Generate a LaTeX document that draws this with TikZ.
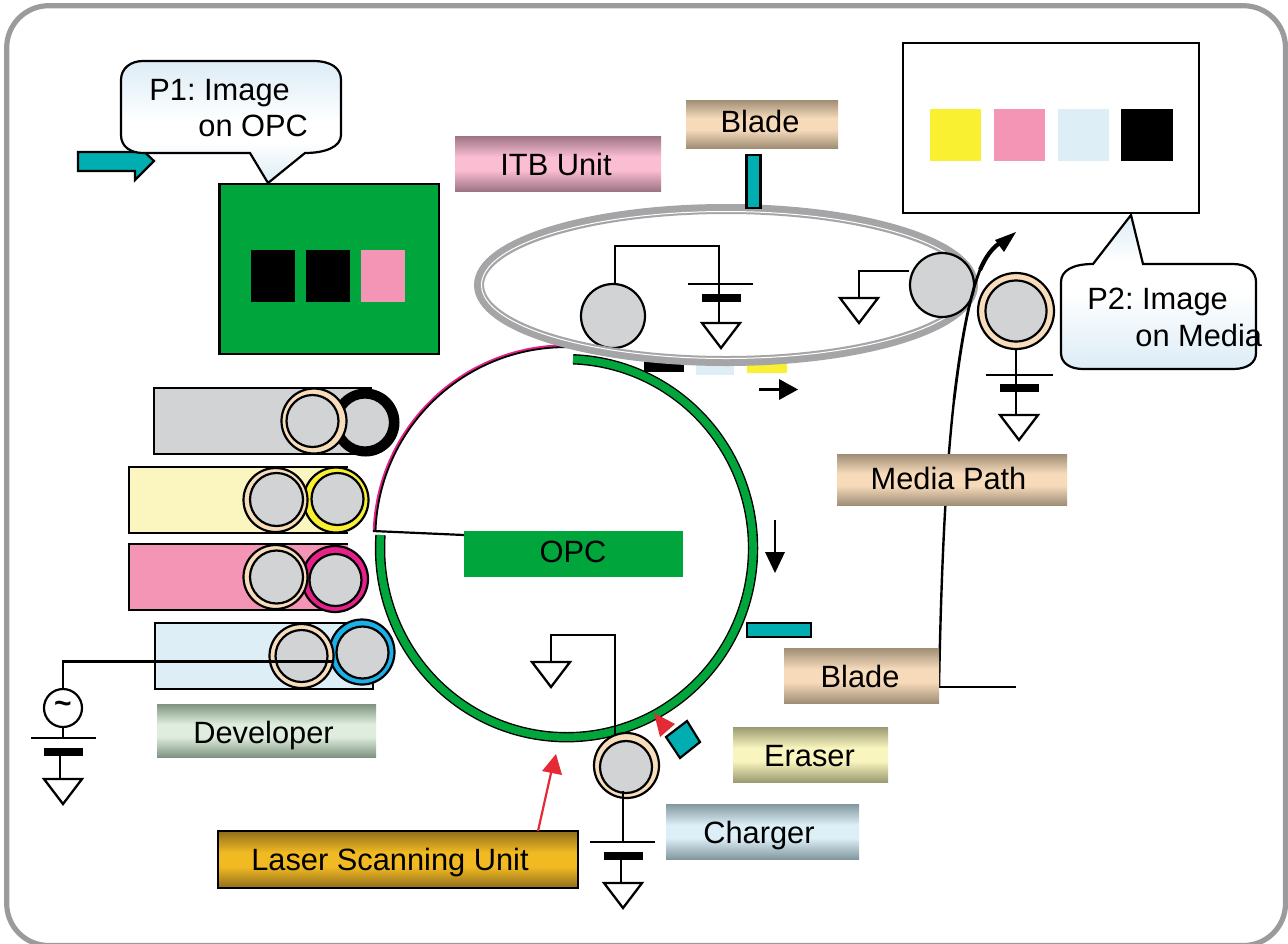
\documentclass[tikz,border=0pt]{standalone}
\usepackage{fontspec}
\setmainfont{Liberation Sans}
\usetikzlibrary{arrows.meta,calc}
\definecolor{framegray}{HTML}{9B9B9D}
\definecolor{rollgray}{HTML}{D1D3D4}
\definecolor{tanring}{HTML}{F7DDBB}
\definecolor{opcgreen}{HTML}{00A63C}
\definecolor{tealc}{HTML}{00ADB0}
\definecolor{pinkc}{HTML}{F495B5}
\definecolor{magc}{HTML}{E5218A}
\definecolor{yelc}{HTML}{F8F031}
\definecolor{cream}{HTML}{FBF5BF}
\definecolor{pale}{HTML}{DDEEF6}
\definecolor{cyanc}{HTML}{1CB0E8}
\definecolor{beltgray}{HTML}{A5A5A7}
\definecolor{redc}{HTML}{E32A36}
\definecolor{calloutblue}{HTML}{DCECF6}
% banded label shadings: dark edge, light middle
\newcommand{\mkband}[3]{\pgfdeclareverticalshading{#1}{100bp}{%
 color(0bp)=(#2!100); color(25bp)=(#2!100); color(44bp)=(#3!100); color(56bp)=(#3!100); color(75bp)=(#2!100); color(100bp)=(#2!100)}}
\definecolor{tanE}{HTML}{9F8E75}\definecolor{tanM}{HTML}{F6DABA}
\definecolor{itbE}{HTML}{9D7485}\definecolor{itbM}{HTML}{FBBDD2}
\definecolor{erE}{HTML}{9B9B72}\definecolor{erM}{HTML}{F9F5BE}
\definecolor{chE}{HTML}{82989F}\definecolor{chM}{HTML}{DCEEF6}
\definecolor{deE}{HTML}{7F9480}\definecolor{deM}{HTML}{DEEDDE}
\definecolor{laE}{HTML}{8F6E1C}\definecolor{laM}{HTML}{F2BA22}
\mkband{bandtan}{tanE}{tanM}
\mkband{banditb}{itbE}{itbM}
\mkband{bander}{erE}{erM}
\mkband{bandch}{chE}{chM}
\mkband{bandde}{deE}{deM}
\mkband{bandla}{laE}{laM}
\pgfdeclareverticalshading{callonep}{100bp}{color(0bp)=(calloutblue!100); color(25bp)=(calloutblue!100); color(42bp)=(white!100); color(50bp)=(white!100); color(75bp)=(calloutblue!100); color(100bp)=(calloutblue!100)}
\pgfdeclareverticalshading{calltwop}{100bp}{color(0bp)=(calloutblue!100); color(25bp)=(calloutblue!100); color(50bp)=(white!100); color(60bp)=(white!100); color(75bp)=(calloutblue!100); color(100bp)=(calloutblue!100)}
\tikzset{
 lab/.style={font=\fontsize{15.4}{18}\selectfont\frenchspacing,anchor=base,inner sep=0pt},
 calltext/.style={font=\fontsize{15.4}{18}\selectfont\frenchspacing,anchor=base west,inner sep=0pt},
 wire/.style={draw=black,line width=1.15pt},
 gnd/.style={draw=black,fill=white,line width=1.15pt,line join=miter},
 tealbox/.style={fill=tealc,draw=black,line width=1.1pt},
 roll/.style={fill=rollgray,draw=black,line width=1.1pt},
 devbox/.style={draw=black,line width=1.2pt},
}
\newcommand{\mygnd}[2]{\draw[gnd] (#1-19,#2) -- (#1+19,#2) -- (#1,#2+25) -- cycle;}
\newcommand{\mybar}[2]{\fill[black] (#1-19.5,#2) rectangle (#1+19.5,#2+7.5);}
% x1 y1 x2 y2 shading textcentre baseline name text
\newcommand{\mylabel}[9]{%
 \shade[shading=#5] (#1,#2) rectangle (#3,#4);
 \node[lab] (#8) at (#6,#7) {#9};}
\begin{document}
\begin{tikzpicture}[x=0.5pt,y=-0.5pt]
\useasboundingbox (0,0) rectangle (1288,943);
\fill[white] (0,0) rectangle (1288,943);
\draw[framegray,line width=2.6pt,rounded corners=21pt] (6.7,5.7) rectangle (1285.5,945.5);

% OPC drum
\draw[magc,line width=1.3pt] (374,531) arc[start angle=182,end angle=272,x radius=192,y radius=192];
\draw[black,line width=0.9pt] (375.5,531) arc[start angle=182,end angle=272,x radius=190.5,y radius=190.5];
\draw[black,line width=5.2pt] (380.5,535) arc[start angle=184,end angle=-88,x radius=186.5,y radius=189];
\draw[opcgreen,line width=3.8pt] (380.5,535) arc[start angle=184,end angle=-88,x radius=186.5,y radius=189];
\coordinate (opcedge) at (373,531);
\node[fill=opcgreen,minimum width=109.5pt,minimum height=23pt,inner sep=0pt,anchor=north west] (opcbox) at (464,531) {};
\node[lab] (opctext) at (573,562) {OPC};
\draw[black,line width=1.1pt] (opcedge) -- (opcbox.west |- 0,535);

% toner squares on the drum
\fill[black] (644,358) rectangle (684,372);
\fill[pale] (696,358) rectangle (734,375);
\fill[yelc] (747,358) rectangle (787,373);

% ITB rollers and belt
\node[circle,roll,minimum size=32pt,inner sep=0pt] (itbroll) at (613,316) {};
\draw[beltgray,line width=5pt] (726,285) ellipse[x radius=247,y radius=76];
\draw[white,line width=0.5pt] (726,285) ellipse[x radius=244.5,y radius=73.5];
\draw[wire] (615,284) |- (719,246) -- (719,323);
\draw[wire] (688,284) -- (753,284);
\mybar{721}{294}
\mygnd{721}{323}
\node[circle,roll,minimum size=32pt,inner sep=0pt] (itbroll2) at (942,285) {};
\draw[wire] (itbroll2.west |- 0,271) -- (859,271) -- (859,298);
\mygnd{859}{298}
\draw[tealbox] (746.5,155) rectangle (760.5,208);

% transfer roller
\fill[tanring,draw=black,line width=1.1pt] (1016,311) circle[radius=38];
\node[circle,roll,minimum size=30.5pt,inner sep=0pt] (xfer) at (1016,311) {};
\draw[wire] (1016,349) -- (1016,415);
\draw[wire] (986,375) -- (1053,375);
\mybar{1019}{384}
\mygnd{1019}{415}

% developers
\draw[devbox,fill=rollgray] (372,388) -- (154,388) -- (154,454) -- (372,454);
\fill[black] (365.5,422.5) circle[radius=34];
\node[circle,roll,minimum size=25pt,inner sep=0pt] (dk) at (365,422.5) {};
\fill[tanring,draw=black,line width=1.1pt] (314,421) circle[radius=32.5];
\node[circle,roll,minimum size=26pt,inner sep=0pt] (dkt) at (312.5,421) {};

\draw[devbox,fill=cream] (348,467) -- (129,467) -- (129,533) -- (348,533);
\fill[yelc,draw=black,line width=1.1pt] (336,500) circle[radius=32.5];
\node[circle,roll,minimum size=26pt,inner sep=0pt] (dy) at (337.5,499) {};
\fill[tanring,draw=black,line width=1.1pt] (275.5,500) circle[radius=32];
\node[circle,roll,minimum size=26.5pt,inner sep=0pt] (dyt) at (276.5,499.5) {};

\draw[devbox,fill=pinkc] (348,544) -- (129,544) -- (129,610) -- (348,610);
\fill[magc,draw=black,line width=1.1pt] (335,579) circle[radius=33];
\node[circle,roll,minimum size=26pt,inner sep=0pt] (dm) at (335.5,580) {};
\fill[tanring,draw=black,line width=1.1pt] (275.5,577) circle[radius=32];
\node[circle,roll,minimum size=26.5pt,inner sep=0pt] (dmt) at (276.5,577) {};

\draw[devbox,fill=pale] (373,623) -- (155,623) -- (155,689) -- (373,689) -- cycle;
\fill[cyanc,draw=black,line width=1.1pt] (362,652) circle[radius=32.5];
\node[circle,roll,minimum size=26pt,inner sep=0pt] (dc) at (362.5,652.5) {};
\fill[tanring,draw=black,line width=1.1pt] (301.5,656) circle[radius=32];
\node[circle,roll,minimum size=26pt,inner sep=0pt] (dct) at (301.5,656) {};

% AC bias
\node[circle,draw=black,line width=1.1pt,fill=white,minimum size=19pt,inner sep=0pt,font=\fontsize{15}{15}\bfseries\selectfont] (ac) at (63,708) {\raisebox{1pt}{\char`\~}};
\draw[wire] (333,661.5) -- (63,661.5) -- (ac.north);
\draw[wire] (ac.south) -- (63,738);
\draw[wire] (31,738) -- (96,738);
\mybar{63}{748}
\draw[wire] (60,755) -- (60,779);
\mygnd{63}{779}

% drum ground
\draw[wire] (551,662) |- (615,635) -- (615,735);
\mygnd{551}{662}

% charger roller
\fill[tanring,draw=black,line width=1.1pt] (626.5,765.5) circle[radius=32.5];
\node[circle,roll,minimum size=26pt,inner sep=0pt] (chroll) at (626,767) {};
\draw[wire] (623,791) -- (623,842);
\draw[wire] (590,842) -- (655,842);
\mybar{623}{852}
\draw[wire] (621,859) -- (621,883);
\mygnd{623}{883}

% blade and eraser bars
\draw[tealbox] (747,623) rectangle (811,637);
\draw[tealbox] (687,721) -- (700,742) -- (680,758) -- (666,737) -- cycle;
\fill[redc] (654,713) -- (675,724) -- (660,737) -- cycle;

% motion arrows
\draw[black,line width=1.1pt] (775,520) -- (775,556);
\fill[black] (775,573) -- (765,552) -- (785,552) -- cycle;
\draw[black,line width=1.1pt] (759,389.5) -- (782,389.5);
\fill[black] (798,389.5) -- (779,379) -- (779,400) -- cycle;

% media path
\draw[black,line width=1.2pt] (1016,687) -- (939,687);
\draw[black,line width=1.2pt] (939,687) .. controls (941,580) and (945,480) .. (954,400);
\draw[black,line width=1.4pt] (954,400) .. controls (960,350) and (968,300) .. (980,270);
\draw[black,line width=2.1pt] (980,270) .. controls (985,258) and (992,247) .. (1004,240);
\fill[black] (1016,232) -- (995,240) -- (1004,252) -- cycle;

% labels
\mylabel{455}{136}{661}{191}{banditb}{556}{175.5}{itb}{ITB Unit}
\mylabel{686}{100}{838}{148}{bandtan}{760}{132}{bladetop}{Blade}
\mylabel{837}{454}{1067}{505}{bandtan}{948.5}{489.5}{media}{Media Path}
\mylabel{784}{648}{939}{703}{bandtan}{860}{687.5}{bladelow}{Blade}
\mylabel{733}{727}{888}{782}{bander}{809.5}{766.5}{eraser}{Eraser}
\mylabel{666}{804}{859}{859}{bandch}{759}{843.5}{charger}{Charger}
\mylabel{157}{704}{376}{757}{bandde}{263.5}{743.5}{developer}{Developer}
\shade[shading=bandla,draw=black,line width=1.1pt] (218,831) rectangle (578,888);
\node[lab] (laser) at (390,870) {Laser Scanning Unit};
\coordinate (lasertop) at (538,831);
\coordinate (lasertip) at (553,764);
\draw[redc,line width=1.1pt] (lasertop) -- (lasertip);
\fill[redc] (556,754) -- (542,771) -- (562,775) -- cycle;

% P1 image
\draw[fill=opcgreen,draw=black,line width=1.2pt] (219.5,184) rectangle (439,354);
\fill[black] (251,250) rectangle (295,302);
\fill[black] (306,250) rectangle (350,302);
\fill[pinkc] (361,250) rectangle (405,302);

% teal arrow and P1 callout
\draw[tealbox,line join=miter] (78,152) -- (135,152) -- (135,143) -- (154,161) -- (135,180) -- (135,171) -- (78,171) -- cycle;
\shade[shading=callonep,draw=black,line width=1.1pt]
 (143,61) -- (313,61) .. controls (331,61) and (341,68) .. (341,80) -- (341,135)
 .. controls (341,147) and (325,153) .. (305,153) -- (268,183) -- (250,153) -- (143,153)
 .. controls (131,153) and (121,147) .. (121,135) -- (121,80) .. controls (121,68) and (131,61) .. (143,61) -- cycle;
\node[calltext] (p1a) at (149,100) {P1: Image};
\node[calltext] (p1b) at (198,136) {on OPC};

% P2 media
\draw[fill=white,draw=black,line width=1.2pt] (903,43) rectangle (1199,213);
\fill[yelc] (930,109) rectangle (981,161);
\fill[pinkc] (994,109) rectangle (1045,161);
\fill[pale] (1058,109) rectangle (1109,161);
\fill[black] (1121,109) rectangle (1173,161);
\shade[shading=calltwop,draw=black,line width=1.1pt]
 (1131,215) -- (1143,264) -- (1233,264) .. controls (1247,264) and (1256,271) .. (1256,282) -- (1256,353)
 .. controls (1256,363) and (1247,369) .. (1233,369) -- (1083,369)
 .. controls (1070,369) and (1061,363) .. (1061,353) -- (1061,282)
 .. controls (1061,271) and (1072,264) .. (1093,264) -- cycle;
\node[calltext] (p2a) at (1087,309) {P2: Image};
\node[calltext] (p2b) at (1135,346) {on Media};
\end{tikzpicture}
\end{document}
